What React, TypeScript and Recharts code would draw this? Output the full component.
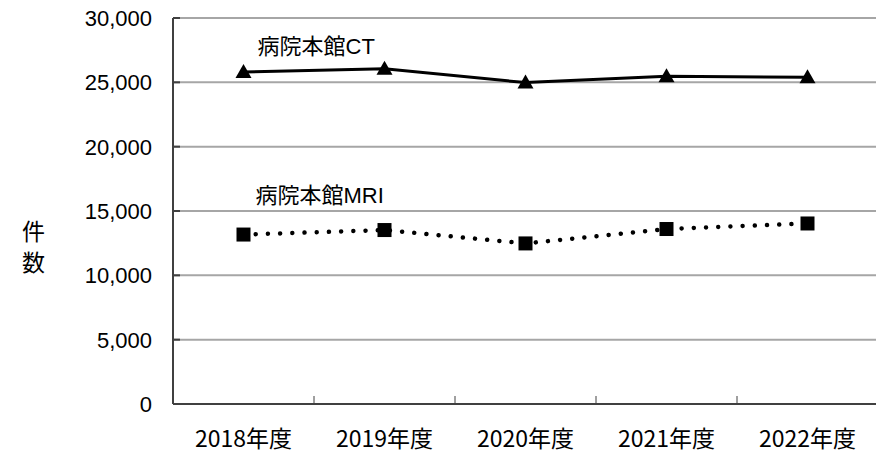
import { CartesianGrid, Line, LineChart, XAxis, YAxis } from "recharts";

const years = ["2018年度", "2019年度", "2020年度", "2021年度", "2022年度"];
const ctCounts = [25800, 26050, 24980, 25470, 25400];
const mriCounts = [13170, 13520, 12480, 13600, 14030];
const yTicks = [0, 5000, 10000, 15000, 20000, 25000, 30000];

const data = years.map((year, i) => ({ year, ct: ctCounts[i], mri: mriCounts[i] }));

const numFont = "'Liberation Sans', Arial, 'Noto Sans CJK JP', sans-serif";
const jpFont = "'Noto Sans CJK JP', sans-serif";

const Triangle = ({ cx, cy, index }: any) => (
  <path key={`t${index}`} d={`M${cx},${cy - 8} L${cx + 8},${cy + 6} L${cx - 8},${cy + 6} Z`} fill="#000" />
);

const Square = ({ cx, cy, index }: any) => (
  <rect key={`s${index}`} x={cx - 7} y={cy - 7} width={14} height={14} fill="#000" />
);

const seriesLabel = (text: string, dx: number, dy: number) => (props: any) => {
  if (props.index !== 0) return null;
  return (
    <text key="lbl" x={props.x + dx} y={props.y + dy} fontSize={22} fontFamily={numFont} fill="#000">
      {text}
    </text>
  );
};

// category label plus the small upward tick at the right edge of each band
const YearTick = ({ x, y, payload, index, visibleTicksCount }: any) => {
  const edge = x + (payload.offset || 0);
  return (
    <g>
      {index < visibleTicksCount - 1 && <line x1={edge} x2={edge} y1={y - 8} y2={y} stroke="#404040" strokeWidth={1} />}
      <text x={x} y={y + 43} textAnchor="middle" fontSize={23} fontFamily={jpFont} fill="#000">
        {payload.value}
      </text>
    </g>
  );
};

export default function App() {
  return (
    <div style={{ position: "absolute", left: 0, top: 0, width: 876, height: 453, overflow: "hidden", background: "#fff" }}>
      <div style={{ position: "absolute", left: 22, top: 219, fontSize: 23, lineHeight: "23px", fontFamily: jpFont }}>件</div>
      <div style={{ position: "absolute", left: 22, top: 250, fontSize: 23, lineHeight: "23px", fontFamily: jpFont }}>数</div>
      <LineChart width={890} height={453} data={data} margin={{ top: 18, right: 12, bottom: 0, left: 0 }}>
        <CartesianGrid vertical={false} stroke="#a6a6a6" strokeWidth={2} />
        <XAxis
          xAxisId="cat"
          dataKey="year"
          scale="band"
          height={49}
          axisLine={{ stroke: "#404040", strokeWidth: 2 }}
          tickLine={false}
          tickSize={0}
          tickMargin={0}
          interval={0}
          tick={YearTick}
        />
        <YAxis
          domain={[0, 30000]}
          ticks={yTicks}
          width={173}
          interval={0}
          axisLine={{ stroke: "#404040", strokeWidth: 2 }}
          tickLine={{ stroke: "#404040", strokeWidth: 2 }}
          tickSize={-7}
          tickMargin={28}
          tick={({ x, y, payload }: any) => (
            <text x={x} y={y} dy="0.36em" textAnchor="end" fontSize={22} fontFamily={numFont} fill="#000">
              {payload.value.toLocaleString("en-US")}
            </text>
          )}
        />
        <Line
          xAxisId="cat"
          dataKey="ct"
          stroke="#000"
          strokeWidth={3}
          dot={Triangle}
          activeDot={false}
          label={seriesLabel("病院本館CT", 14, -18)}
          isAnimationActive={false}
        />
        <Line
          xAxisId="cat"
          dataKey="mri"
          stroke="#000"
          strokeWidth={4.5}
          strokeDasharray="0.01 12.2"
          strokeLinecap="round"
          dot={Square}
          activeDot={false}
          label={seriesLabel("病院本館MRI", 12, -32)}
          isAnimationActive={false}
        />
      </LineChart>
    </div>
  );
}
